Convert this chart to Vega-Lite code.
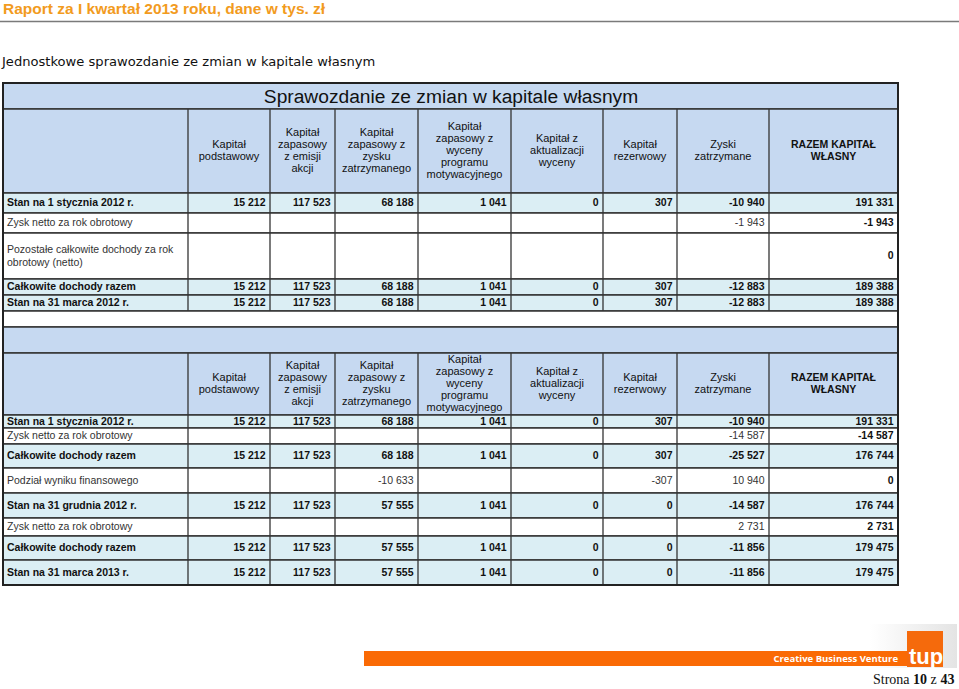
{
  "$schema": "https://vega.github.io/schema/vega-lite/v6.json",
  "width": 959,
  "height": 689,
  "autosize": {"type": "none"},
  "padding": 0,
  "background": "white",
  "config": {
    "view": {"stroke": null},
    "axis": {"disable": true},
    "locale": {"number": {"decimal": ",", "thousands": " ", "grouping": [3], "currency": ["", " zł"], "minus": "-"}},
    "text": {"font": "Liberation Sans", "fontSize": 10.5, "color": "#111111"}
  },
  "datasets": {
    "rows": [
      {"r": 0, "r_end": 1, "kind": "title", "label": ""},
      {"r": 1, "r_end": 2, "kind": "header", "label": ""},
      {"r": 2, "r_end": 3, "kind": "bold", "label": "Stan na 1 stycznia 2012 r."},
      {"r": 3, "r_end": 4, "kind": "plain", "label": "Zysk netto za rok obrotowy"},
      {"r": 4, "r_end": 5, "kind": "plain", "label": "Pozostałe całkowite dochody za rok|obrotowy (netto)"},
      {"r": 5, "r_end": 6, "kind": "bold", "label": "Całkowite dochody razem"},
      {"r": 6, "r_end": 7, "kind": "bold", "label": "Stan na 31 marca 2012 r."},
      {"r": 7, "r_end": 8, "kind": "blank", "label": ""},
      {"r": 8, "r_end": 9, "kind": "title", "label": ""},
      {"r": 9, "r_end": 10, "kind": "header", "label": ""},
      {"r": 10, "r_end": 11, "kind": "bold", "label": "Stan na 1 stycznia 2012 r."},
      {"r": 11, "r_end": 12, "kind": "plain", "label": "Zysk netto za rok obrotowy"},
      {"r": 12, "r_end": 13, "kind": "bold", "label": "Całkowite dochody razem"},
      {"r": 13, "r_end": 14, "kind": "plain", "label": "Podział wyniku finansowego"},
      {"r": 14, "r_end": 15, "kind": "bold", "label": "Stan na 31 grudnia 2012 r."},
      {"r": 15, "r_end": 16, "kind": "plain", "label": "Zysk netto za rok obrotowy"},
      {"r": 16, "r_end": 17, "kind": "bold", "label": "Całkowite dochody razem"},
      {"r": 17, "r_end": 18, "kind": "bold", "label": "Stan na 31 marca 2013 r."}
    ],
    "cols": [
      {"c": 0, "head": ""},
      {"c": 1, "head": "Kapitał|podstawowy"},
      {"c": 2, "head": "Kapitał|zapasowy|z emisji|akcji"},
      {"c": 3, "head": "Kapitał|zapasowy z|zysku|zatrzymanego"},
      {"c": 4, "head": "Kapitał|zapasowy z|wyceny|programu|motywacyjnego"},
      {"c": 5, "head": "Kapitał z|aktualizacji|wyceny"},
      {"c": 6, "head": "Kapitał|rezerwowy"},
      {"c": 7, "head": "Zyski|zatrzymane"},
      {"c": 8, "head": "RAZEM KAPITAŁ|WŁASNY"}
    ],
    "cells": [
      {"r": 2, "c": 1, "v": 15212}, {"r": 2, "c": 2, "v": 117523}, {"r": 2, "c": 3, "v": 68188}, {"r": 2, "c": 4, "v": 1041},
      {"r": 2, "c": 5, "v": 0}, {"r": 2, "c": 6, "v": 307}, {"r": 2, "c": 7, "v": -10940}, {"r": 2, "c": 8, "v": 191331},
      {"r": 3, "c": 7, "v": -1943}, {"r": 3, "c": 8, "v": -1943},
      {"r": 4, "c": 8, "v": 0},
      {"r": 5, "c": 1, "v": 15212}, {"r": 5, "c": 2, "v": 117523}, {"r": 5, "c": 3, "v": 68188}, {"r": 5, "c": 4, "v": 1041},
      {"r": 5, "c": 5, "v": 0}, {"r": 5, "c": 6, "v": 307}, {"r": 5, "c": 7, "v": -12883}, {"r": 5, "c": 8, "v": 189388},
      {"r": 6, "c": 1, "v": 15212}, {"r": 6, "c": 2, "v": 117523}, {"r": 6, "c": 3, "v": 68188}, {"r": 6, "c": 4, "v": 1041},
      {"r": 6, "c": 5, "v": 0}, {"r": 6, "c": 6, "v": 307}, {"r": 6, "c": 7, "v": -12883}, {"r": 6, "c": 8, "v": 189388},
      {"r": 10, "c": 1, "v": 15212}, {"r": 10, "c": 2, "v": 117523}, {"r": 10, "c": 3, "v": 68188}, {"r": 10, "c": 4, "v": 1041},
      {"r": 10, "c": 5, "v": 0}, {"r": 10, "c": 6, "v": 307}, {"r": 10, "c": 7, "v": -10940}, {"r": 10, "c": 8, "v": 191331},
      {"r": 11, "c": 7, "v": -14587}, {"r": 11, "c": 8, "v": -14587},
      {"r": 12, "c": 1, "v": 15212}, {"r": 12, "c": 2, "v": 117523}, {"r": 12, "c": 3, "v": 68188}, {"r": 12, "c": 4, "v": 1041},
      {"r": 12, "c": 5, "v": 0}, {"r": 12, "c": 6, "v": 307}, {"r": 12, "c": 7, "v": -25527}, {"r": 12, "c": 8, "v": 176744},
      {"r": 13, "c": 3, "v": -10633}, {"r": 13, "c": 6, "v": -307}, {"r": 13, "c": 7, "v": 10940}, {"r": 13, "c": 8, "v": 0},
      {"r": 14, "c": 1, "v": 15212}, {"r": 14, "c": 2, "v": 117523}, {"r": 14, "c": 3, "v": 57555}, {"r": 14, "c": 4, "v": 1041},
      {"r": 14, "c": 5, "v": 0}, {"r": 14, "c": 6, "v": 0}, {"r": 14, "c": 7, "v": -14587}, {"r": 14, "c": 8, "v": 176744},
      {"r": 15, "c": 7, "v": 2731}, {"r": 15, "c": 8, "v": 2731},
      {"r": 16, "c": 1, "v": 15212}, {"r": 16, "c": 2, "v": 117523}, {"r": 16, "c": 3, "v": 57555}, {"r": 16, "c": 4, "v": 1041},
      {"r": 16, "c": 5, "v": 0}, {"r": 16, "c": 6, "v": 0}, {"r": 16, "c": 7, "v": -11856}, {"r": 16, "c": 8, "v": 179475},
      {"r": 17, "c": 1, "v": 15212}, {"r": 17, "c": 2, "v": 117523}, {"r": 17, "c": 3, "v": 57555}, {"r": 17, "c": 4, "v": 1041},
      {"r": 17, "c": 5, "v": 0}, {"r": 17, "c": 6, "v": 0}, {"r": 17, "c": 7, "v": -11856}, {"r": 17, "c": 8, "v": 179475}
    ]
  },
  "layer": [
    {
      "layer": [
        {
          "data": {"name": "rows"},
          "mark": {"type": "rect", "stroke": "#333333", "strokeWidth": 1.3},
          "encoding": {
            "x": {"datum": -1, "type": "quantitative", "axis": null,
                  "scale": {"domain": [-1, 0, 1, 2, 3, 4, 5, 6, 7, 8], "range": [3, 188, 270, 335, 418, 511, 603, 677, 769, 898], "nice": false, "zero": false}},
            "x2": {"datum": 8},
            "y": {"field": "r", "type": "quantitative", "axis": null,
                  "scale": {"domain": [0, 1, 2, 3, 4, 5, 6, 7, 8, 9, 10, 11, 12, 13, 14, 15, 16, 17, 18], "range": [83, 109, 193, 213, 233, 279, 295, 311, 327, 353, 415, 428, 444, 468, 493, 518, 536, 560, 585], "nice": false, "zero": false}},
            "y2": {"field": "r_end"},
            "fill": {"field": "kind", "type": "nominal", "legend": null,
                     "scale": {"domain": ["title", "header", "bold", "plain", "blank"], "range": ["#c6d9f1", "#c6d9f1", "#dbeef4", "#ffffff", "#ffffff"]}}
          }
        },
        {
          "data": {"name": "cols"},
          "transform": [{"filter": "datum.c < 8"}],
          "mark": {"type": "rule", "stroke": "#333333", "strokeWidth": 1.3},
          "encoding": {
            "x": {"field": "c", "type": "quantitative"},
            "y": {"datum": 1, "type": "quantitative"},
            "y2": {"datum": 7}
          }
        },
        {
          "data": {"name": "cols"},
          "transform": [{"filter": "datum.c < 8"}],
          "mark": {"type": "rule", "stroke": "#333333", "strokeWidth": 1.3},
          "encoding": {
            "x": {"field": "c", "type": "quantitative"},
            "y": {"datum": 9, "type": "quantitative"},
            "y2": {"datum": 18}
          }
        },
        {
          "data": {"values": [{}]},
          "mark": {"type": "rect", "fillOpacity": 0, "stroke": "#222222", "strokeWidth": 2},
          "encoding": {
            "x": {"datum": -1, "type": "quantitative"},
            "x2": {"datum": 8},
            "y": {"datum": 0, "type": "quantitative"},
            "y2": {"datum": 18}
          }
        }
      ]
    },
    {
      "layer": [
        {
          "data": {"name": "cells"},
          "transform": [
            {"lookup": "r", "from": {"data": {"name": "rows"}, "key": "r", "fields": ["kind"]}},
            {"filter": "datum.kind === 'bold' || datum.c === 8"}
          ],
          "mark": {"type": "text", "align": "right", "baseline": "middle", "dx": -4.5, "fontWeight": "bold"},
          "encoding": {
            "x": {"field": "c", "type": "quantitative", "axis": null,
                  "scale": {"domain": [-1, 0, 1, 2, 3, 4, 5, 6, 7, 8], "range": [3, 188, 270, 335, 418, 511, 603, 677, 769, 898], "nice": false, "zero": false}},
            "y": {"field": "r", "type": "quantitative", "axis": null,
                  "scale": {"domain": [0, 1, 2, 3, 4, 5, 6, 7, 8, 9, 10, 11, 12, 13, 14, 15, 16, 17], "range": [96, 151, 203, 223, 256, 287, 303, 319, 340, 384, 421.5, 436, 456, 480.5, 505.5, 527, 548, 572.5], "nice": false, "zero": false}},
            "text": {"field": "v", "type": "quantitative", "format": ",d"}
          }
        },
        {
          "data": {"name": "cells"},
          "transform": [
            {"lookup": "r", "from": {"data": {"name": "rows"}, "key": "r", "fields": ["kind"]}},
            {"filter": "!(datum.kind === 'bold' || datum.c === 8)"}
          ],
          "mark": {"type": "text", "align": "right", "baseline": "middle", "dx": -4.5, "color": "#333333"},
          "encoding": {
            "x": {"field": "c", "type": "quantitative"},
            "y": {"field": "r", "type": "quantitative"},
            "text": {"field": "v", "type": "quantitative", "format": ",d"}
          }
        },
        {
          "data": {"name": "rows"},
          "transform": [{"filter": "datum.kind === 'bold'"}],
          "mark": {"type": "text", "align": "left", "baseline": "middle", "dx": 4, "fontWeight": "bold"},
          "encoding": {
            "x": {"datum": -1, "type": "quantitative"},
            "y": {"field": "r", "type": "quantitative"},
            "text": {"field": "label", "type": "nominal"}
          }
        },
        {
          "data": {"name": "rows"},
          "transform": [{"filter": "datum.kind === 'plain' && !test(/[|]/, datum.label)"}],
          "mark": {"type": "text", "align": "left", "baseline": "middle", "dx": 4, "color": "#333333"},
          "encoding": {
            "x": {"datum": -1, "type": "quantitative"},
            "y": {"field": "r", "type": "quantitative"},
            "text": {"field": "label", "type": "nominal"}
          }
        },
        {
          "data": {"name": "rows"},
          "transform": [{"filter": "datum.kind === 'plain' && test(/[|]/, datum.label)"}],
          "mark": {"type": "text", "align": "left", "baseline": "middle", "dx": 4, "dy": -6.5, "lineBreak": "|", "lineHeight": 13, "color": "#333333"},
          "encoding": {
            "x": {"datum": -1, "type": "quantitative"},
            "y": {"field": "r", "type": "quantitative"},
            "text": {"field": "label", "type": "nominal"}
          }
        }
      ]
    },
    {
      "data": {"name": "cols"},
      "layer": [
        {
          "transform": [{"filter": "datum.c === 1 || datum.c === 6 || datum.c === 7"}],
          "mark": {"type": "text", "align": "center", "baseline": "middle", "lineBreak": "|", "lineHeight": 12, "dy": -6, "fontSize": 11},
          "encoding": {
            "x": {"field": "c", "type": "quantitative", "axis": null,
                  "scale": {"domain": [1, 2, 3, 4, 5, 6, 7, 8], "range": [229, 302.5, 376.5, 464.5, 557, 640, 723, 833.5], "nice": false, "zero": false}},
            "y": {"datum": 1, "type": "quantitative", "axis": null,
                  "scale": {"domain": [0, 1, 2, 3, 4, 5, 6, 7, 8, 9, 10, 11, 12, 13, 14, 15, 16, 17], "range": [96, 151, 203, 223, 256, 287, 303, 319, 340, 384, 421.5, 436, 456, 480.5, 505.5, 527, 548, 572.5], "nice": false, "zero": false}},
            "text": {"field": "head", "type": "nominal"}
          }
        },
        {
          "transform": [{"filter": "datum.c === 8"}],
          "mark": {"type": "text", "align": "center", "baseline": "middle", "lineBreak": "|", "lineHeight": 12, "dy": -6, "fontWeight": "bold"},
          "encoding": {"x": {"field": "c", "type": "quantitative"}, "y": {"datum": 1, "type": "quantitative"}, "text": {"field": "head", "type": "nominal"}}
        },
        {
          "transform": [{"filter": "datum.c === 5"}],
          "mark": {"type": "text", "align": "center", "baseline": "middle", "lineBreak": "|", "lineHeight": 12, "dy": -12, "fontSize": 11},
          "encoding": {"x": {"field": "c", "type": "quantitative"}, "y": {"datum": 1, "type": "quantitative"}, "text": {"field": "head", "type": "nominal"}}
        },
        {
          "transform": [{"filter": "datum.c === 2 || datum.c === 3"}],
          "mark": {"type": "text", "align": "center", "baseline": "middle", "lineBreak": "|", "lineHeight": 12, "dy": -18, "fontSize": 11},
          "encoding": {"x": {"field": "c", "type": "quantitative"}, "y": {"datum": 1, "type": "quantitative"}, "text": {"field": "head", "type": "nominal"}}
        },
        {
          "transform": [{"filter": "datum.c === 4"}],
          "mark": {"type": "text", "align": "center", "baseline": "middle", "lineBreak": "|", "lineHeight": 12, "dy": -24, "fontSize": 11},
          "encoding": {"x": {"field": "c", "type": "quantitative"}, "y": {"datum": 1, "type": "quantitative"}, "text": {"field": "head", "type": "nominal"}}
        },
        {
          "transform": [{"filter": "datum.c === 1 || datum.c === 6 || datum.c === 7"}],
          "mark": {"type": "text", "align": "center", "baseline": "middle", "lineBreak": "|", "lineHeight": 12, "dy": -6, "fontSize": 11},
          "encoding": {"x": {"field": "c", "type": "quantitative"}, "y": {"datum": 9, "type": "quantitative"}, "text": {"field": "head", "type": "nominal"}}
        },
        {
          "transform": [{"filter": "datum.c === 8"}],
          "mark": {"type": "text", "align": "center", "baseline": "middle", "lineBreak": "|", "lineHeight": 12, "dy": -6, "fontWeight": "bold"},
          "encoding": {"x": {"field": "c", "type": "quantitative"}, "y": {"datum": 9, "type": "quantitative"}, "text": {"field": "head", "type": "nominal"}}
        },
        {
          "transform": [{"filter": "datum.c === 5"}],
          "mark": {"type": "text", "align": "center", "baseline": "middle", "lineBreak": "|", "lineHeight": 12, "dy": -12, "fontSize": 11},
          "encoding": {"x": {"field": "c", "type": "quantitative"}, "y": {"datum": 9, "type": "quantitative"}, "text": {"field": "head", "type": "nominal"}}
        },
        {
          "transform": [{"filter": "datum.c === 2 || datum.c === 3"}],
          "mark": {"type": "text", "align": "center", "baseline": "middle", "lineBreak": "|", "lineHeight": 12, "dy": -18, "fontSize": 11},
          "encoding": {"x": {"field": "c", "type": "quantitative"}, "y": {"datum": 9, "type": "quantitative"}, "text": {"field": "head", "type": "nominal"}}
        },
        {
          "transform": [{"filter": "datum.c === 4"}],
          "mark": {"type": "text", "align": "center", "baseline": "middle", "lineBreak": "|", "lineHeight": 12, "dy": -24, "fontSize": 11},
          "encoding": {"x": {"field": "c", "type": "quantitative"}, "y": {"datum": 9, "type": "quantitative"}, "text": {"field": "head", "type": "nominal"}}
        }
      ]
    },
    {
      "data": {"values": [{}]},
      "layer": [
        {
          "mark": {"type": "text", "text": "Raport za I kwartał 2013 roku, dane w tys. zł", "align": "left", "baseline": "alphabetic", "font": "Liberation Sans", "fontSize": 15.5, "fontWeight": "bold", "color": "#f29b1e"},
          "encoding": {
            "x": {"datum": 3, "type": "quantitative", "axis": null, "scale": {"domain": [0, 959], "range": [0, 959], "nice": false, "zero": false}},
            "y": {"datum": 14, "type": "quantitative", "axis": null, "scale": {"domain": [0, 689], "range": [0, 689], "nice": false, "zero": false}}
          }
        },
        {
          "mark": {"type": "rule", "stroke": "#7a7a7a", "strokeWidth": 1.5},
          "encoding": {
            "x": {"datum": 0, "type": "quantitative"},
            "x2": {"datum": 959},
            "y": {"datum": 21.5, "type": "quantitative"}
          }
        },
        {
          "mark": {"type": "text", "text": "Jednostkowe sprawozdanie ze zmian w kapitale własnym", "align": "left", "baseline": "alphabetic", "font": "DejaVu Sans", "fontSize": 13.1, "color": "#111111"},
          "encoding": {
            "x": {"datum": 2, "type": "quantitative"},
            "y": {"datum": 66, "type": "quantitative"}
          }
        },
        {
          "mark": {"type": "text", "text": "Sprawozdanie ze zmian w kapitale własnym", "align": "center", "baseline": "middle", "font": "Liberation Sans", "fontSize": 19.2, "color": "#111111"},
          "encoding": {
            "x": {"datum": 451, "type": "quantitative"},
            "y": {"datum": 96.5, "type": "quantitative"}
          }
        },
        {
          "mark": {"type": "rect", "fill": {"gradient": "linear", "x1": 0, "y1": 0, "x2": 1, "y2": 0, "stops": [{"offset": 0, "color": "#ffffff"}, {"offset": 1, "color": "#e4e4e4"}]}},
          "encoding": {
            "x": {"datum": 870, "type": "quantitative"},
            "x2": {"datum": 957},
            "y": {"datum": 624, "type": "quantitative"},
            "y2": {"datum": 668}
          }
        },
        {
          "mark": {"type": "rect", "fill": "#fa6a05"},
          "encoding": {
            "x": {"datum": 364, "type": "quantitative"},
            "x2": {"datum": 907},
            "y": {"datum": 651, "type": "quantitative"},
            "y2": {"datum": 666}
          }
        },
        {
          "mark": {"type": "rect", "fill": "#f56a0c"},
          "encoding": {
            "x": {"datum": 907, "type": "quantitative"},
            "x2": {"datum": 943},
            "y": {"datum": 631, "type": "quantitative"},
            "y2": {"datum": 667}
          }
        },
        {
          "mark": {"type": "text", "text": "Creative Business Venture", "align": "right", "baseline": "alphabetic", "font": "Open Sans", "fontSize": 9.5, "fontWeight": "bold", "color": "#ffffff"},
          "encoding": {
            "x": {"datum": 898, "type": "quantitative"},
            "y": {"datum": 662, "type": "quantitative"}
          }
        },
        {
          "mark": {"type": "text", "text": "tup", "align": "center", "baseline": "alphabetic", "font": "Liberation Sans", "fontSize": 22, "fontWeight": "bold", "color": "#ffffff"},
          "encoding": {
            "x": {"datum": 926, "type": "quantitative"},
            "y": {"datum": 664, "type": "quantitative"}
          }
        },
        {
          "mark": {"type": "text", "text": "Strona", "align": "left", "baseline": "alphabetic", "font": "Liberation Serif", "fontSize": 14, "color": "#111111"},
          "encoding": {
            "x": {"datum": 873, "type": "quantitative"},
            "y": {"datum": 684, "type": "quantitative"}
          }
        },
        {
          "mark": {"type": "text", "text": "10", "align": "left", "baseline": "alphabetic", "font": "Liberation Serif", "fontSize": 14, "fontWeight": "bold", "color": "#111111"},
          "encoding": {
            "x": {"datum": 913, "type": "quantitative"},
            "y": {"datum": 684, "type": "quantitative"}
          }
        },
        {
          "mark": {"type": "text", "text": "z", "align": "left", "baseline": "alphabetic", "font": "Liberation Serif", "fontSize": 14, "color": "#111111"},
          "encoding": {
            "x": {"datum": 930.5, "type": "quantitative"},
            "y": {"datum": 684, "type": "quantitative"}
          }
        },
        {
          "mark": {"type": "text", "text": "43", "align": "left", "baseline": "alphabetic", "font": "Liberation Serif", "fontSize": 14, "fontWeight": "bold", "color": "#111111"},
          "encoding": {
            "x": {"datum": 940.5, "type": "quantitative"},
            "y": {"datum": 684, "type": "quantitative"}
          }
        }
      ]
    }
  ],
  "resolve": {"scale": {"x": "independent", "y": "independent"}}
}
